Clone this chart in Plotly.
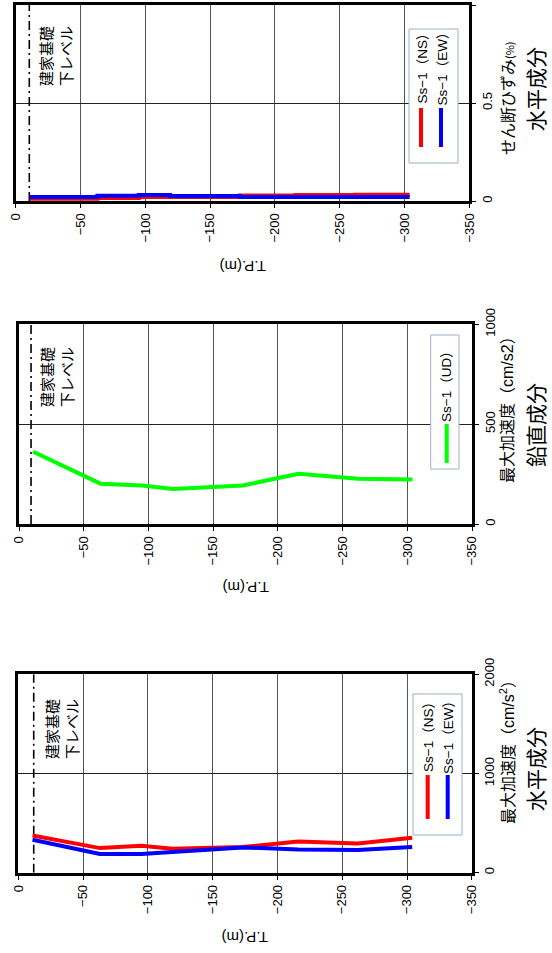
import plotly.graph_objects as go

W, H = 552, 953

# ---------------- data ----------------
depth = [-11, -63, -95, -119, -173, -216, -262, -304]          # T.P.(m)
strain_ns = [0.012, 0.015, 0.020, 0.020, 0.028, 0.030, 0.032, 0.032]  # せん断ひずみ(%)
strain_ew = [0.020, 0.027, 0.031, 0.026, 0.020, 0.020, 0.021, 0.021]
accel_ud = [362, 202, 193, 175, 193, 252, 227, 223]            # cm/s2
accel_ns = [375, 248, 271, 241, 258, 315, 295, 352]
accel_ew = [332, 188, 188, 208, 255, 235, 228, 258]
base_level = [-10.5, -9.3, -11.9]                              # 建家基礎下レベル
depth_ticks = [0, -50, -100, -150, -200, -250, -300, -350]
y_ranges = [1, 1000, 2000]
y_ticklabels = [["0", "0.5", "1"], ["0", "500", "1000"], ["0", "1000", "2000"]]

NUM_FONT = "Liberation Sans, Arial, Noto Sans CJK JP"
JP_FONT = "Noto Sans CJK JP, Liberation Sans"

def px(p):
    return p / W

def py(p):
    return 1 - p / H

# panel pixel boxes: (left, right, top, bottom)
boxes = [(15.7, 469.3, 5, 201), (19, 472, 324.3, 524), (18.3, 471.8, 674.3, 872.7)]

fig = go.Figure()

series = [
    [(strain_ns, "#FF0000", "hv"), (strain_ew, "#0000FF", "hv")],
    [(accel_ud, "#00FF00", "linear")],
    [(accel_ns, "#FF0000", "linear"), (accel_ew, "#0000FF", "linear")],
]

for i in range(3):
    sfx = "" if i == 0 else str(i + 1)
    xa, ya = "x" + sfx, "y" + sfx
    fig.add_trace(go.Scatter(x=[base_level[i], base_level[i]], y=[0, y_ranges[i]],
                             mode="lines", xaxis=xa, yaxis=ya, showlegend=False,
                             hoverinfo="skip",
                             line=dict(color="black", width=1.6, dash="9px,4px,2px,4px")))
    for vals, col, shape in series[i]:
        fig.add_trace(go.Scatter(x=depth, y=vals, mode="lines", xaxis=xa, yaxis=ya,
                                 showlegend=False, line=dict(color=col, width=4, shape=shape)))
    l, r, t, b = boxes[i]
    common = dict(showline=True, linewidth=3, linecolor="black", mirror=True,
                  showgrid=True, gridwidth=1, zeroline=False,
                  ticks="outside", ticklen=4, tickcolor="black", tickwidth=1,
                  tickangle=-90, tickfont=dict(family=NUM_FONT, size=13, color="black"))
    fig.layout["xaxis" + sfx] = dict(domain=[px(l), px(r)], anchor=ya, range=[0, -350],
                                     tickvals=depth_ticks, gridcolor="#555555", **common)
    fig.layout["yaxis" + sfx] = dict(domain=[py(b), py(t)], anchor=xa, side="right",
                                     range=[0, y_ranges[i]],
                                     tickvals=[0, y_ranges[i] / 2, y_ranges[i]],
                                     ticktext=y_ticklabels[i], gridcolor="#222222", **common)

ann = []
def text(x, y, s, size, angle=-90, font=JP_FONT):
    ann.append(dict(x=px(x), y=py(y), xref="paper", yref="paper", text=s, showarrow=False,
                    textangle=angle, font=dict(family=font, size=size, color="black"),
                    xanchor="center", yanchor="middle", align="center"))

# axis titles
text(507, 98, "せん断ひずみ<span style='font-size:11px'>(%)</span>", 16)
text(535, 89, "水平成分", 21)
text(507, 406, "最大加速度（cm/s2）", 16, font=NUM_FONT)
text(535, 425, "鉛直成分", 21)
text(507, 748, "最大加速度（cm/s<sup>2</sup>）", 16, font=NUM_FONT)
text(535, 769, "水平成分", 21)
# depth titles (upside down)
for xx, yy in [(243, 267), (246, 588), (245, 938)]:
    text(xx, yy, "T.P.(m)", 15, angle=180, font=NUM_FONT)
# base level labels
for xx, yy in [(55, 56), (56, 377), (61, 729)]:
    text(xx, yy, "建家基礎<br>下レベル", 15)

# legends (drawn manually, rotated)
shapes = []
def legend_box(x0, y0, x1, y1):
    shapes.append(dict(type="rect", xref="paper", yref="paper", x0=px(x0), x1=px(x1),
                       y0=py(y1), y1=py(y0), line=dict(color="#9DB1CC", width=1),
                       fillcolor="white", layer="above"))
def legend_line(x, y0, y1, col):
    shapes.append(dict(type="line", xref="paper", yref="paper", x0=px(x), x1=px(x),
                       y0=py(y1), y1=py(y0), line=dict(color=col, width=4), layer="above"))

legend_box(409, 29, 458, 163)
legend_line(421, 108, 147, "#FF0000")
legend_line(441, 108, 147, "#0000FF")
legend_box(430.7, 335, 459, 469)
legend_line(446.7, 424, 463, "#00FF00")
legend_box(413, 694, 462, 835)
legend_line(427.7, 775, 819, "#FF0000")
legend_line(447.7, 775, 819, "#0000FF")

text(422, 65.5, "Ss−1（NS）", 13.5, font=NUM_FONT)
text(442, 65.5, "Ss−1（EW）", 13.5, font=NUM_FONT)
text(446.5, 383.5, "Ss−1（UD）", 13.5, font=NUM_FONT)
text(428, 734, "Ss−1（NS）", 13.5, font=NUM_FONT)
text(448, 734, "Ss−1（EW）", 13.5, font=NUM_FONT)

fig.update_layout(width=W, height=H, margin=dict(l=0, r=0, t=0, b=0),
                  template="none", paper_bgcolor="white", plot_bgcolor="white",
                  showlegend=False, annotations=ann, shapes=shapes)

fig.write_html("out.html", config={"displayModeBar": False},
               post_script="document.body.style.margin='0';document.body.style.overflow='hidden';")
